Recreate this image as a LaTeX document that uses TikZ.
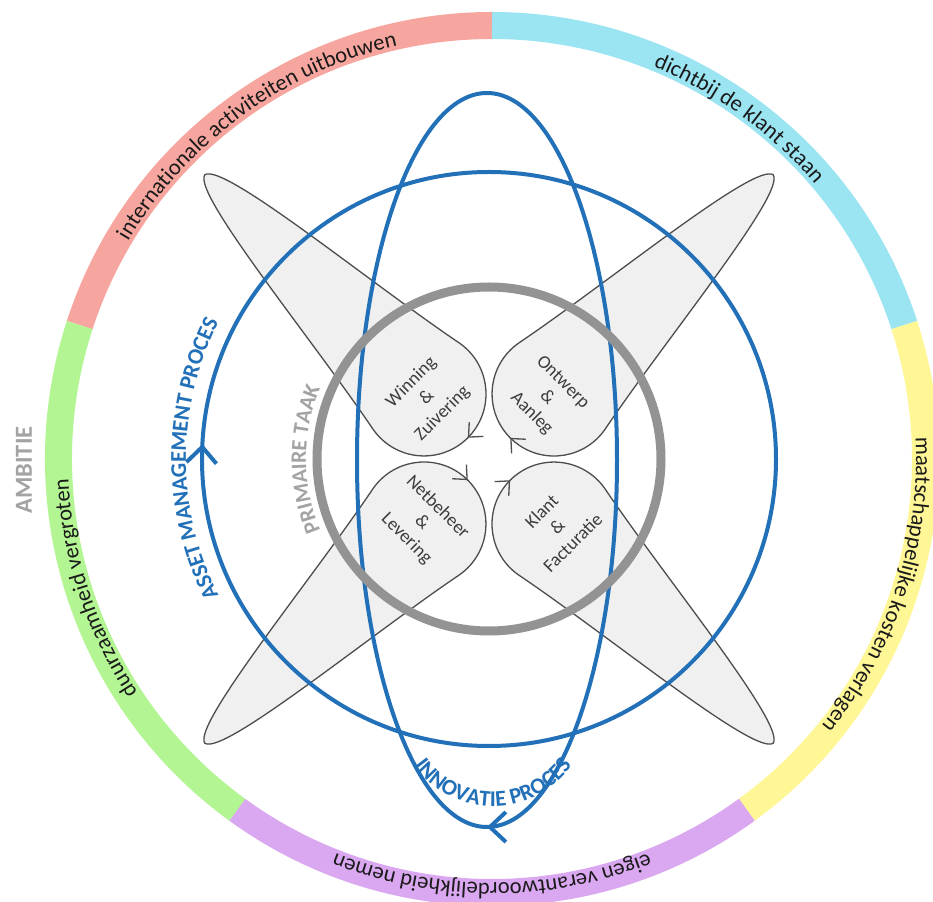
\documentclass[tikz,border=0pt]{standalone}
\usepackage{fontspec}
\setmainfont{Carlito}
\usetikzlibrary{arrows.meta,decorations.markings,decorations.text}
\definecolor{ringpink}{HTML}{F6A69E}
\definecolor{ringcyan}{HTML}{9BE5F3}
\definecolor{ringyellow}{HTML}{FFF796}
\definecolor{ringpurple}{HTML}{DAA7F1}
\definecolor{ringgreen}{HTML}{B3F592}
\definecolor{procblue}{HTML}{2170B8}
\definecolor{taakgray}{HTML}{939393}
\definecolor{labelgray}{HTML}{A3A3A3}
\definecolor{petalfill}{HTML}{F0F0F0}
\definecolor{petalline}{HTML}{4D4D4D}
\definecolor{ink}{HTML}{1A1A1A}
\newcommand\ringfont{\fontsize{22.5}{27}\selectfont\color{ink}}
\newcommand\procfont{\fontsize{22.5}{27}\selectfont\bfseries\color{procblue}}
\newcommand\taakfont{\fontsize{22}{26}\selectfont\bfseries\color{labelgray}}
\tikzset{
  ringband/.style={line width=27pt},
  ringtext/.style={decorate, decoration={text along path, text align=center, text={#1}}},
  procline/.style={draw=procblue, line width=4pt},
  midarrow/.style={postaction={decorate, decoration={markings,
    mark=at position #1 with {\arrowreversed{Straight Barb[length=16pt,width=30pt]}}}}},
  petal/.style={fill=petalfill, draw=petalline, line width=1.3pt,
    postaction={decorate, decoration={markings,
    mark=at position 0.5 with {\arrow{Straight Barb[length=11pt,width=20pt]}}}}},
  petallabel/.style={align=center, text=ink!85, font=\fontsize{18.5}{22}\selectfont},
}

\begin{document}
\begin{tikzpicture}[x=1pt, y=1pt]
\useasboundingbox (-489,-442) rectangle (444,459);
\clip (-489,-442) rectangle (444,459);
\fill[white] (-489,-442) rectangle (444,459);

% ambitie ring
\begin{scope}[shift={(3,0)}]
\foreach \a/\col in {162/ringpink, 90/ringcyan, 18/ringyellow, -54/ringpurple, -126/ringgreen}
  \draw[ringband, \col] (\a:433.5pt) arc[start angle=\a, end angle=\a-72, radius=433.5pt];
\path[ringtext={|\ringfont|internationale activiteiten uitbouwen}] (162:424pt) arc[start angle=162, end angle=90, radius=424pt];
\path[ringtext={|\ringfont|dichtbij de klant staan}] (90:424pt) arc[start angle=90, end angle=18, radius=424pt];
\path[ringtext={|\ringfont|maatschappelijke kosten verlagen}] (18:424pt) arc[start angle=18, end angle=-54, radius=424pt];
\path[ringtext={|\ringfont|eigen verantwoordelijkheid nemen}] (-54:424pt) arc[start angle=-54, end angle=-126, radius=424pt];
\path[ringtext={|\ringfont|duurzaamheid vergroten}] (-126:424pt) arc[start angle=-126, end angle=-198, radius=424pt];
\end{scope}
\node[rotate=90, font=\fontsize{24.5}{28}\selectfont\bfseries, text=labelgray] (ambitie) at (-465,-11) {AMBITIE};

% petals
\foreach \ang/\bx/\by in {135/-65/65, 45/65/65, 225/-65/-65, -45/65/-65}
  \path[petal, shift={(\bx,\by)}, rotate=\ang] (310,0) .. controls (306,-22) and (119,-40) .. (10.8,-61.1)
    arc[start angle=-80, end angle=-280, radius=62pt] .. controls (119,40) and (306,22) .. (310,0) -- cycle;

% processen
\draw[procline, midarrow=0.4917] (0,0) circle[radius=287pt];
\draw[procline, midarrow=0.75] (-2,-1) ellipse[x radius=130pt, y radius=367pt];
\draw[taakgray, line width=9pt] (0,0) circle[radius=172pt];

\path[ringtext={|\procfont|ASSET MANAGEMENT PROCES}] (215:303pt) arc[start angle=215, end angle=145, radius=303pt];
\path[ringtext={|\taakfont|PRIMAIRE TAAK}] (215:183pt) arc[start angle=215, end angle=145, radius=183pt];
\path[ringtext={|\procfont|INNOVATIE PROCES}, shift={(4,-250)}] (210:97pt) arc[start angle=210, end angle=330, radius=97pt];

\node[petallabel, rotate=45] (winning) at (-62,61) {Winning\\\&\\Zuivering};
\node[petallabel, rotate=-45] (ontwerp) at (58,61) {Ontwerp\\\&\\Aanleg};
\node[petallabel, rotate=-45] (netbeheer) at (-67,-64) {Netbeheer\\\&\\Levering};
\node[petallabel, rotate=45] (klant) at (68,-68) {Klant\\\&\\Facturatie};
\end{tikzpicture}
\end{document}
